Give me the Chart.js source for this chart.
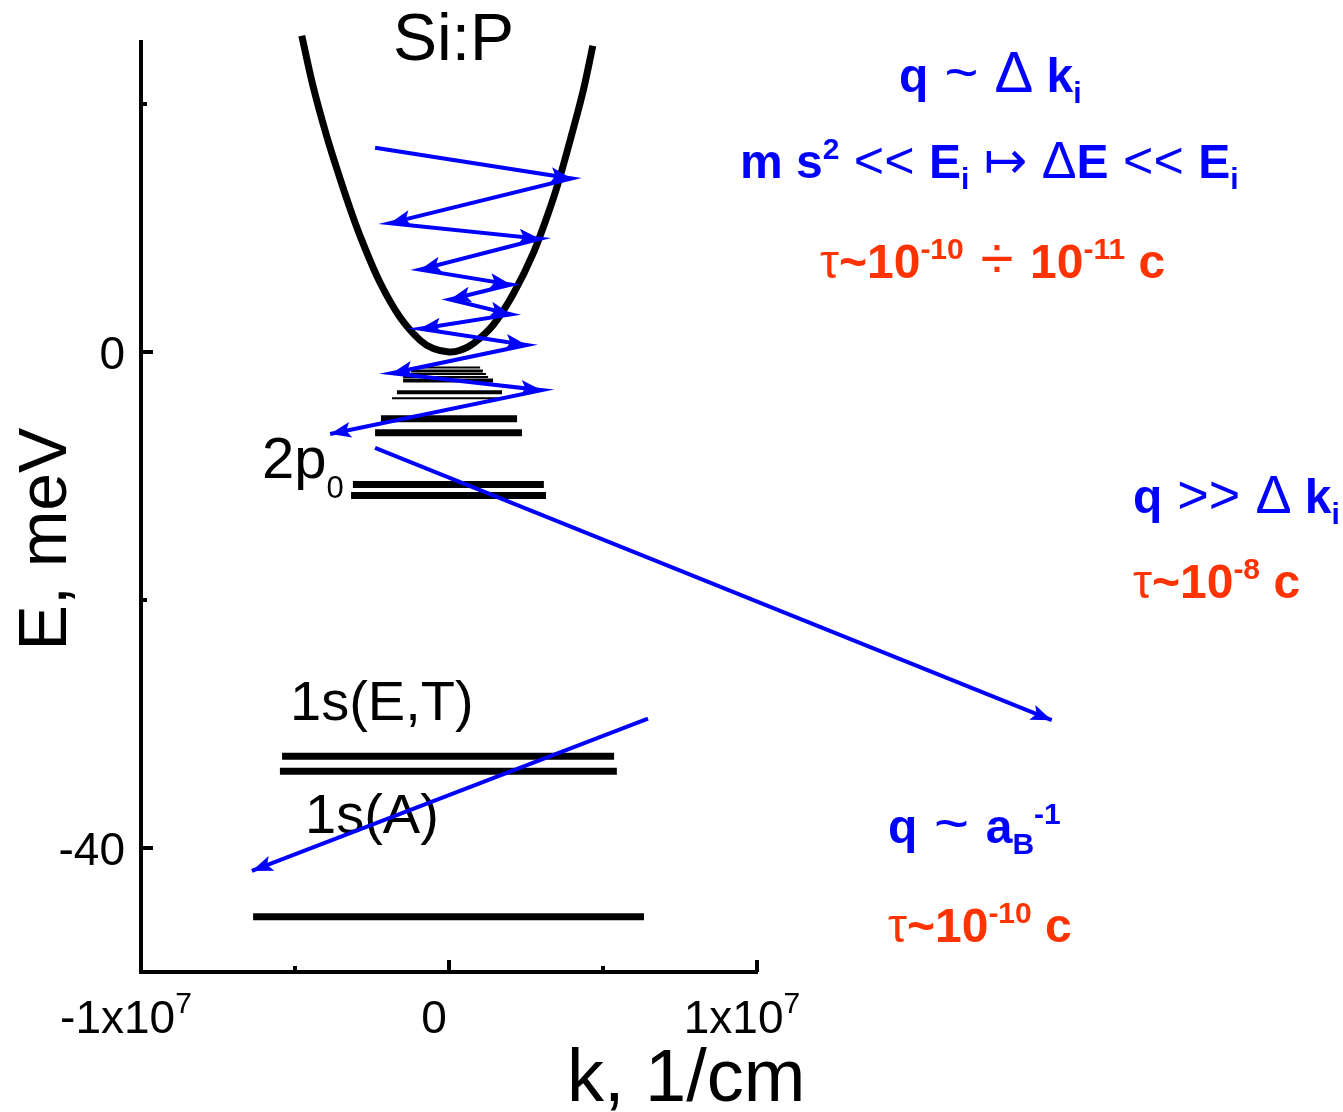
<!DOCTYPE html>
<html>
<head>
<meta charset="utf-8">
<title>Si:P energy levels and phonon relaxation</title>
<script src="https://cdn.jsdelivr.net/npm/chart.js@4.4.1/dist/chart.umd.min.js"></script>
<style>
  html, body { margin: 0; padding: 0; background: #ffffff; }
  #wrap { width: 1343px; height: 1112px; position: relative; }
  canvas { display: block; }
</style>
</head>
<body>
<div id="wrap"><canvas id="chart" width="1343" height="1112"></canvas></div>
<script>
// ---- Conduction band E(k) of Si:P (k in 1/cm, E in meV) ----
const bandK = [-4.78e6, -4.41e6, -3.97e6, -3.54e6, -3.16e6, -2.83e6, -2.24e6, -1.59e6, -0.94e6, -0.51e6, 0,
               0.36e6, 0.79e6, 1.44e6, 2.09e6, 2.74e6, 3.28e6, 3.60e6, 3.98e6, 4.36e6, 4.67e6];
const bandE = [25.5, 21.4, 17.4, 14.0, 11.2, 9.0, 5.6, 2.8, 0.95, 0.28, 0,
               0.14, 0.68, 2.2, 4.7, 8.0, 11.6, 14.1, 17.5, 21.1, 24.7];

// ---- Donor levels: energy and k-extent of each bar ----
const levelE      = [-1.24, -1.53, -1.77, -2.01, -2.29, -3.25, -3.73, -5.38, -6.51, -10.68, -11.57, -32.61, -33.82, -45.54];
const levelKLeft  = [-1.10e6, -1.23e6, -1.43e6, -1.49e6, -1.49e6, -1.69e6, -1.85e6, -2.21e6, -2.40e6, -3.12e6, -3.18e6, -5.42e6, -5.49e6, -6.36e6];
const levelKRight = [1.01e6, 1.10e6, 1.20e6, 1.27e6, 1.43e6, 1.72e6, 1.69e6, 2.21e6, 2.37e6, 3.08e6, 3.15e6, 5.36e6, 5.45e6, 6.33e6];
// bar thickness: thin lines for the dense upper states
const levelLineWidth = [2, 3, 2, 2, 4, 4, 2, 7, 7, 7, 7, 7, 7, 7];

// ---- Cascade of acoustic-phonon transitions down the band ----
const cascadeK = [-2.40e6, 3.98e6, -1.92e6, 2.95e6, -0.94e6, 2.01e6, 0.03e6, 2.01e6, -0.94e6, 2.52e6, -1.86e6, 3.01e6, -3.86e6];
const cascadeE = [16.47, 14.0, 10.39, 9.13, 6.64, 5.44, 4.23, 3.03, 1.87, 0.56, -1.71, -3.08, -6.61];

// ---- Transition 2p0 -> 1s(E,T) (large q) ----
const jumpK = [-2.40e6, 19.57e6];
const jumpE = [-7.73, -29.69];

// ---- Transition 1s(E,T) -> 1s(A) ----
const groundK = [6.46e6, -6.40e6];
const groundE = [-29.56, -41.85];

// ---- Axes ----
const xTicks = [-1e7, -5e6, 0, 5e6, 1e7];
const xTickBase = ['-1x10', '', '0', '', '1x10'];
const xTickExp  = ['7', '', '', '', '7'];
const yTicks = [20, 0, -20, -40];
const yTickText = ['', '0', '', '-40'];
const xTitle = 'k, 1/cm';
const yTitle = 'E, meV';

const FONT = "'Liberation Sans', Arial, Helvetica, 'DejaVu Sans', sans-serif";
const BLUE = '#0000ff';
const ORANGE = '#ff3300';

const pts = (ks, es) => ks.map((k, i) => ({ x: k, y: es[i] }));

const datasets = [];
levelE.forEach((e, i) => {
  datasets.push({
    label: 'level ' + i,
    data: [{ x: levelKLeft[i], y: e }, { x: levelKRight[i], y: e }],
    borderColor: '#000000',
    borderWidth: levelLineWidth[i],
    borderCapStyle: 'butt',
    pointRadius: 0,
    order: 3
  });
});
datasets.push({
  label: 'band',
  data: pts(bandK, bandE),
  borderColor: '#000000',
  borderWidth: 7,
  tension: 0.35,
  pointRadius: 0,
  clip: false,
  order: 2
});
const arrowSets = [
  { label: 'cascade', k: cascadeK, e: cascadeE },
  { label: 'jump', k: jumpK, e: jumpE },
  { label: 'ground', k: groundK, e: groundE }
];
arrowSets.forEach(a => {
  datasets.push({
    label: a.label,
    data: pts(a.k, a.e),
    borderColor: BLUE,
    borderWidth: 4,
    tension: 0,
    pointRadius: 0,
    clip: false,
    order: 1
  });
});

// text pieces: b = bold, sup / sub = raised / lowered small text, m = size multiplier
function pieceSize(p, size) {
  let s = size * (p.m || 1);
  if (p.sup || p.sub) s = p.ss || s * 0.62;
  return Math.round(s);
}
function pieceFont(p, size) {
  return (p.b ? 'bold ' : '') + pieceSize(p, size) + 'px ' + FONT;
}
function richWidth(ctx, parts, size) {
  let w = 0;
  parts.forEach(p => { ctx.font = pieceFont(p, size); w += ctx.measureText(p.t).width; });
  return w;
}
function drawRich(ctx, x, y, parts, size, color) {
  ctx.save();
  ctx.fillStyle = color;
  ctx.textAlign = 'left';
  ctx.textBaseline = 'alphabetic';
  let cx = x;
  parts.forEach(p => {
    ctx.font = pieceFont(p, size);
    const dy = p.dy !== undefined ? p.dy : (p.sup ? -size * 0.40 : (p.sub ? size * 0.22 : 0));
    ctx.fillText(p.t, cx, y + dy);
    cx += ctx.measureText(p.t).width;
  });
  ctx.restore();
}

function arrowHead(ctx, x0, y0, x1, y1, color) {
  const a = Math.atan2(y1 - y0, x1 - x0);
  const len = 21, half = 8;
  ctx.save();
  ctx.translate(x1, y1);
  ctx.rotate(a);
  ctx.beginPath();
  ctx.moveTo(0, 0);
  ctx.lineTo(-len, -half);
  ctx.lineTo(-len * 0.78, 0);
  ctx.lineTo(-len, half);
  ctx.closePath();
  ctx.fillStyle = color;
  ctx.fill();
  ctx.restore();
}

const decor = {
  id: 'decor',
  beforeDatasetsDraw(chart) {
    const ctx = chart.ctx;
    ctx.save();
    ctx.fillStyle = '#000';
    ctx.textBaseline = 'alphabetic';
    ctx.textAlign = 'left';
    ctx.font = '66px ' + FONT;
    ctx.fillText('Si:P', 393, 60);
    drawRich(ctx, 262, 478, [{ t: '2p' }, { t: '0', sub: true, ss: 31, dy: 20 }], 58, '#000');
    ctx.font = '56px ' + FONT;
    ctx.fillText('1s(E,T)', 290, 720);
    ctx.fillText('1s(A)', 305, 833);
    ctx.restore();
  },
  afterDatasetsDraw(chart) {
    const ctx = chart.ctx;
    chart.data.datasets.forEach((ds, di) => {
      if (!arrowSets.some(a => a.label === ds.label)) return;
      const pts = chart.getDatasetMeta(di).data;
      for (let i = 1; i < pts.length; i++) {
        arrowHead(ctx, pts[i - 1].x, pts[i - 1].y, pts[i].x, pts[i].y, BLUE);
      }
    });
  },
  afterDraw(chart) {
    const ctx = chart.ctx;
    const sx = chart.scales.x, sy = chart.scales.y;
    const area = chart.chartArea;
    ctx.save();
    ctx.strokeStyle = '#000';
    ctx.lineWidth = 4;
    ctx.lineCap = 'butt';
    // inward tick marks
    sy.ticks.forEach((t, i) => {
      const py = sy.getPixelForValue(t.value);
      const len = yTickText[i] ? 12 : 6;
      ctx.beginPath(); ctx.moveTo(area.left, py); ctx.lineTo(area.left + len, py); ctx.stroke();
    });
    sx.ticks.forEach((t, i) => {
      const px = sx.getPixelForValue(t.value);
      const len = xTickBase[i] ? 12 : 6;
      ctx.beginPath(); ctx.moveTo(px, area.bottom); ctx.lineTo(px, area.bottom - len); ctx.stroke();
    });
    // tick labels
    ctx.fillStyle = '#000';
    ctx.textBaseline = 'alphabetic';
    ctx.textAlign = 'right';
    ctx.font = '46px ' + FONT;
    sy.ticks.forEach((t, i) => {
      if (!yTickText[i]) return;
      ctx.fillText(yTickText[i], area.left - 16, sy.getPixelForValue(t.value) + 16.5);
    });
    sx.ticks.forEach((t, i) => {
      if (!xTickBase[i]) return;
      const parts = [{ t: xTickBase[i] }];
      if (xTickExp[i]) parts.push({ t: xTickExp[i], sup: true, ss: 30, dy: -20 });
      const w = richWidth(ctx, parts, 46);
      drawRich(ctx, sx.getPixelForValue(t.value) - 15 - w / 2, area.bottom + 61, parts, 46, '#000');
    });
    // axis titles
    ctx.textAlign = 'left';
    ctx.font = '74px ' + FONT;
    ctx.fillText(xTitle, 567, 1101);
    ctx.save();
    ctx.translate(66, 539);
    ctx.rotate(-Math.PI / 2);
    ctx.textAlign = 'center';
    ctx.font = '68px ' + FONT;
    ctx.fillText(yTitle, 0, 0);
    ctx.restore();
    ctx.restore();

    // relaxation regimes
    const S = 48;
    drawRich(ctx, 899, 92, [{ t: 'q', b: true }, { t: ' ~ ', m: 1.2 }, { t: 'Δ', m: 1.2 }, { t: ' ' }, { t: 'k', b: true }, { t: 'i', b: true, sub: true }], S, BLUE);
    drawRich(ctx, 740, 178, [{ t: 'm s', b: true }, { t: '2', b: true, sup: true }, { t: ' << ', m: 1.08 }, { t: 'E', b: true }, { t: 'i', b: true, sub: true },
      { t: ' ↦ ', m: 1.08 }, { t: 'Δ', m: 1.08 }, { t: 'E', b: true }, { t: ' << ', m: 1.08 }, { t: 'E', b: true }, { t: 'i', b: true, sub: true }], S, BLUE);
    drawRich(ctx, 820, 278, [{ t: 'τ' }, { t: '~', b: true }, { t: '10', b: true }, { t: '-10', b: true, sup: true }, { t: ' ÷ ', m: 1.25 },
      { t: '10', b: true }, { t: '-11', b: true, sup: true }, { t: ' c', b: true }], S, ORANGE);
    drawRich(ctx, 1133, 513, [{ t: 'q', b: true }, { t: ' >> ', m: 1.12 }, { t: 'Δ', m: 1.12 }, { t: ' ' }, { t: 'k', b: true }, { t: 'i', b: true, sub: true }], S, BLUE);
    drawRich(ctx, 1133, 598, [{ t: 'τ' }, { t: '~', b: true }, { t: '10', b: true }, { t: '-8', b: true, sup: true }, { t: ' c', b: true }], S, ORANGE);
    drawRich(ctx, 888, 843, [{ t: 'q', b: true }, { t: ' ~ ', m: 1.24 }, { t: 'a', b: true }, { t: 'B', b: true, sub: true }, { t: '-1', b: true, sup: true }], S, BLUE);
    drawRich(ctx, 888, 942, [{ t: 'τ' }, { t: '~', b: true }, { t: '10', b: true }, { t: '-10', b: true, sup: true }, { t: ' c', b: true }], S, ORANGE);
  }
};

new Chart(document.getElementById('chart'), {
  type: 'line',
  data: { datasets },
  options: {
    responsive: false,
    animation: false,
    devicePixelRatio: 1,
    layout: { padding: { left: 141, right: 1343 - 757, top: 42, bottom: 1112 - 972 } },
    plugins: { legend: { display: false }, tooltip: { enabled: false } },
    elements: { point: { radius: 0 }, line: { borderCapStyle: 'butt' } },
    scales: {
      x: {
        type: 'linear', min: -1e7, max: 1e7,
        afterBuildTicks: s => { s.ticks = xTicks.map(v => ({ value: v })); },
        grid: { display: true, drawOnChartArea: false, drawTicks: false },
        border: { display: true, color: '#000', width: 4 },
        ticks: { display: false }
      },
      y: {
        type: 'linear', min: -50, max: 25,
        afterBuildTicks: s => { s.ticks = yTicks.map(v => ({ value: v })); },
        grid: { display: true, drawOnChartArea: false, drawTicks: false },
        border: { display: true, color: '#000', width: 4 },
        ticks: { display: false }
      }
    }
  },
  plugins: [decor]
});
</script>
</body>
</html>
